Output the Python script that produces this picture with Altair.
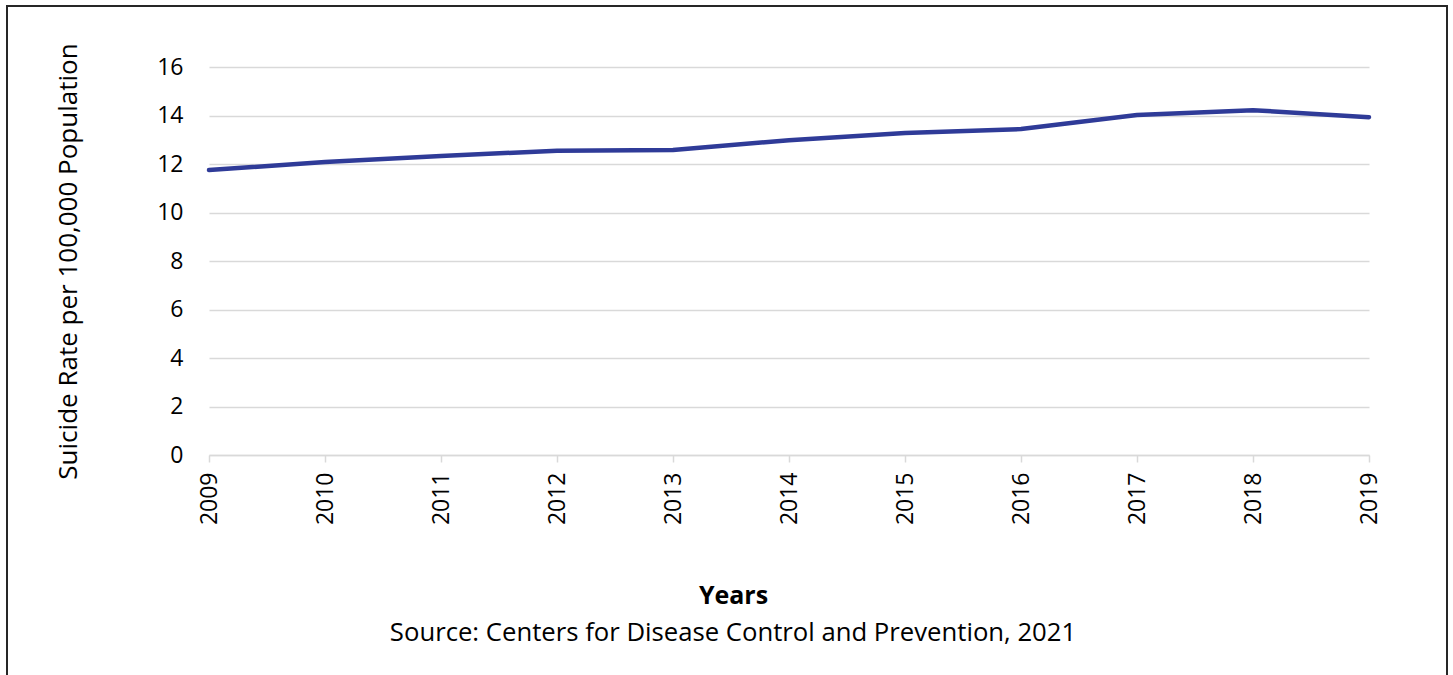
import altair as alt
import pandas as pd

years = [2009, 2010, 2011, 2012, 2013, 2014, 2015, 2016, 2017, 2018, 2019]
rates = [11.75, 12.08, 12.33, 12.55, 12.58, 12.98, 13.28, 13.44, 14.02, 14.22, 13.93]
y_ticks = [0, 2, 4, 6, 8, 10, 12, 14, 16]
x_title = "Years"
y_title = "Suicide Rate per 100,000 Population"
source_text = "Source: Centers for Disease Control and Prevention, 2021"

FONT = "Open Sans"
df = pd.DataFrame({"year": years, "rate": rates})

W, H = 1160, 388
LEFT, TOP = 209, 67

line = alt.Chart(df).mark_line(color="#2F3B98", strokeWidth=4.5, strokeJoin="round", strokeCap="round").encode(
    x=alt.X("year:O", scale=alt.Scale(type="point", padding=0),
            axis=alt.Axis(title=x_title, labelAngle=-90, labelAlign="right", labelBaseline="middle",
                          labelFontSize=23, labelFont=FONT, labelColor="#000000", labelPadding=10,
                          domainColor="#d9d9d9", domainWidth=1.5, tickColor="#d9d9d9", tickWidth=1.5,
                          tickSize=7, grid=False,
                          titleFont=FONT, titleFontSize=25, titleFontWeight="bold", titleColor="#000000",
                          titleX=524, titleY=140, titleBaseline="middle", titleAnchor="start", titleAlign="center")),
    y=alt.Y("rate:Q", scale=alt.Scale(domain=[0, 16], nice=False),
            axis=alt.Axis(title=y_title, values=y_ticks, domain=False, ticks=False,
                          labelFontSize=23, labelFont=FONT, labelColor="#000000", labelPadding=26,
                          gridColor="#d9d9d9", gridWidth=1.5,
                          titleFont=FONT, titleFontSize=26, titleFontWeight="normal", titleColor="#000000",
                          titleX=-141, titleY=194, titleAlign="center", titleBaseline="middle", titleAngle=-90)),
)

blank = alt.Data(values=[{"k": 1}])

source = alt.Chart(blank).mark_text(font=FONT, fontSize=25.7, color="#000000", align="center", baseline="middle").encode(
    x=alt.value(524), y=alt.value(633 - TOP), text=alt.value(source_text)
)

border = alt.Chart(blank).mark_rect(fill=None, stroke="#262626", strokeWidth=2).encode(
    x=alt.value(7 - LEFT), x2=alt.value(1447 - LEFT), y=alt.value(6 - TOP), y2=alt.value(700 - TOP)
)

chart = alt.layer(border, line, source).properties(
    width=W, height=H,
    autosize=alt.AutoSizeParams(type="none"),
    padding={"left": LEFT, "top": TOP, "right": 1453 - LEFT - W, "bottom": 675 - TOP - H},
    background="white",
).configure_view(stroke=None)

chart.save("out.html", embed_options={"renderer": "svg", "actions": False})
